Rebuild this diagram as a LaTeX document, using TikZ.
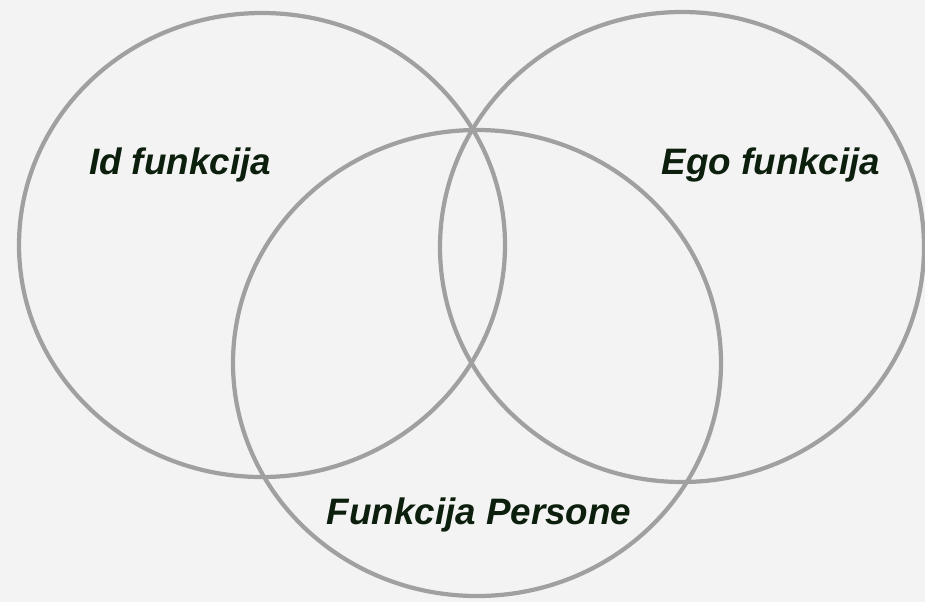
\documentclass[tikz,border=0pt]{standalone}
\usepackage{fontspec}
\setmainfont{Liberation Sans}
\usepackage{xcolor}
\usepackage{tikz}
\usetikzlibrary{positioning}
\definecolor{vennbg}{RGB}{243, 243, 243}
\definecolor{venngray}{RGB}{160, 160, 160}
\definecolor{venntext}{RGB}{12, 30, 12}

\tikzset{
  vennring/.style={draw=venngray, line width=3.6pt},
  vennlabel/.style={text=venntext, anchor=base, inner sep=0pt,
                    font=\fontsize{31.4}{36}\selectfont\bfseries\itshape}
}

\begin{document}
\begin{tikzpicture}[x=0.03cm, y=-0.03cm]
  % background
  \fill[vennbg] (0,0) rectangle (925,602);
  \useasboundingbox (0,0) rectangle (925,602);
  % centres of the three rings
  \coordinate (idc) at (262,245);
  \coordinate (egoc) at (682,247);
  \coordinate (perc) at (477,363);
  \draw[vennring] (idc) ellipse [x radius=243, y radius=232];
  \draw[vennring] (egoc) ellipse [x radius=242, y radius=235];
  \draw[vennring] (perc) ellipse [x radius=244, y radius=233];
  % labels
  \node[vennlabel] (id) at (180,174) {Id funkcija};
  \node[vennlabel] (ego) at (771,174) {Ego funkcija};
  \node[vennlabel] (persona) at (479,524) {Funkcija Persone};
\end{tikzpicture}
\end{document}
